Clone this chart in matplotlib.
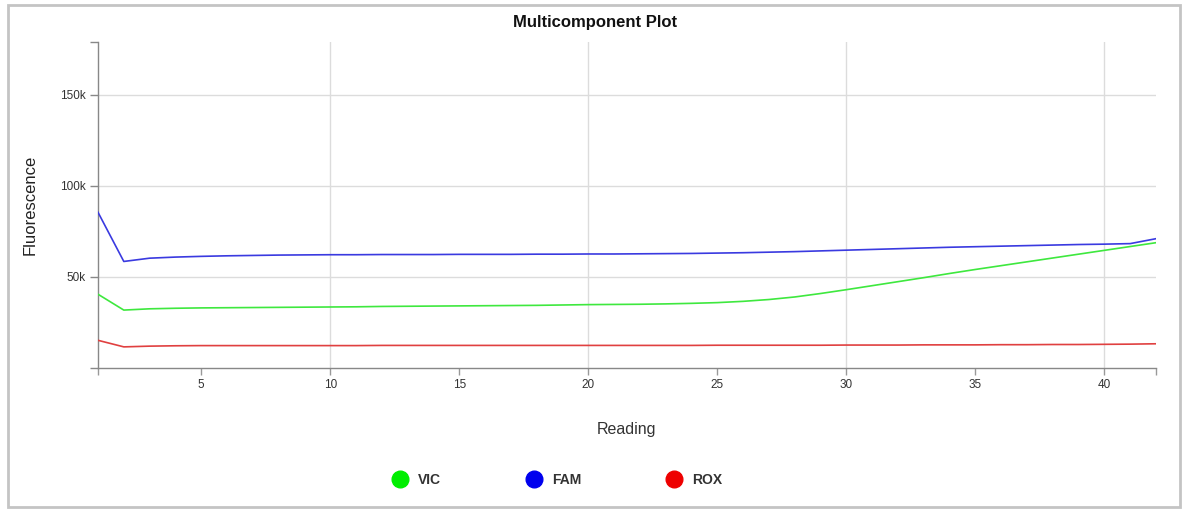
import matplotlib
matplotlib.use("Agg")
import matplotlib.pyplot as plt
from matplotlib.lines import Line2D
from matplotlib.patches import Rectangle

plt.rcParams['font.family'] = ['Liberation Sans', 'DejaVu Sans']

readings = list(range(1, 43))
fam = [85.5, 58.5, 60.3, 60.9, 61.3, 61.6, 61.8, 62.0, 62.1, 62.2,
       62.2, 62.3, 62.3, 62.3, 62.4, 62.4, 62.4, 62.5, 62.5, 62.6,
       62.6, 62.7, 62.8, 62.9, 63.1, 63.3, 63.6, 63.9, 64.3, 64.7,
       65.1, 65.5, 65.9, 66.3, 66.6, 66.9, 67.2, 67.5, 67.8, 68.0,
       68.3, 71.0]
vic = [40.5, 31.8, 32.5, 32.8, 33.0, 33.1, 33.2, 33.3, 33.4, 33.5,
       33.6, 33.8, 33.9, 34.0, 34.1, 34.2, 34.3, 34.4, 34.6, 34.8,
       34.9, 35.0, 35.2, 35.5, 35.9, 36.6, 37.6, 39.0, 40.9, 43.0,
       45.2, 47.4, 49.6, 51.9, 54.1, 56.2, 58.3, 60.4, 62.5, 64.6,
       66.7, 68.8]
rox = [15.2, 11.6, 12.0, 12.2, 12.3, 12.3, 12.3, 12.3, 12.3, 12.3,
       12.3, 12.4, 12.4, 12.4, 12.4, 12.4, 12.4, 12.4, 12.4, 12.4,
       12.4, 12.4, 12.4, 12.4, 12.5, 12.5, 12.5, 12.5, 12.5, 12.6,
       12.6, 12.6, 12.7, 12.7, 12.7, 12.8, 12.8, 12.9, 12.9, 13.0,
       13.1, 13.3]
series_names = ["VIC", "FAM", "ROX"]
line_colors = ["#3ee83e", "#3a3ae0", "#e04040"]
legend_colors = ["#00ee00", "#0000ee", "#ee0000"]
x_ticks = [5, 10, 15, 20, 25, 30, 35, 40]
x_grid = [10, 20, 30, 40]
y_ticks = [50000, 100000, 150000]
y_tick_labels = ["50k", "100k", "150k"]

fig = plt.figure(figsize=(11.89, 5.12), dpi=100)
fig.patch.set_facecolor("white")

# card border
card = Rectangle((8 / 1189, 5 / 512), 1172 / 1189, 502 / 512,
                 transform=fig.transFigure, facecolor="none",
                 edgecolor="#c4c4c4", linewidth=2.0, zorder=-5)
fig.add_artist(card)

ax = fig.add_axes([98 / 1189, 1 - 368 / 512, (1156 - 98) / 1189, (368 - 42) / 512])
ax.set_facecolor("none")
ax.set_zorder(2)

for gx in x_grid:
    ax.axvline(gx, color="#dcdcdc", lw=1.0, zorder=1)
for gy in y_ticks:
    ax.axhline(gy, color="#dcdcdc", lw=1.0, zorder=1)

for vals, c in zip([vic, fam, rox], line_colors):
    ax.plot(readings, [v * 1000 for v in vals], color=c, lw=1.2, zorder=3)

ax.set_xlim(1, 42)
ax.set_ylim(0, 179000)

ax.set_xticks([1] + x_ticks + [42])
ax.set_xticklabels([""] + [str(t) for t in x_ticks] + [""])
ax.set_yticks([0] + y_ticks + [179000])
ax.set_yticklabels([""] + y_tick_labels + [""])
ax.tick_params(axis="x", colors="#999999", labelcolor="#333333",
               labelsize=8.5, length=5, width=1, direction="out", pad=3)
ax.tick_params(axis="y", colors="#888888", labelcolor="#333333",
               labelsize=8.5, length=6, width=1, direction="out", pad=3)

for side in ["top", "right"]:
    ax.spines[side].set_visible(False)
for side in ["left", "bottom"]:
    ax.spines[side].set_color("#888888")
    ax.spines[side].set_linewidth(1)

ax.set_xlabel("Reading", fontsize=11.5, color="#333333", labelpad=22)
ax.set_ylabel("Fluorescence", fontsize=12, color="#222222", labelpad=16)

fig.text(595 / 1189, 1 - 22 / 512, "Multicomponent Plot", ha="center",
         va="center", fontsize=12, fontweight="bold", color="#111111")

handles = [Line2D([], [], linestyle="none", marker="o", markersize=12,
                  markerfacecolor=c, markeredgecolor=c) for c in legend_colors]
fig.legend(handles, series_names, loc="center", bbox_to_anchor=(554 / 1189, 1 - 480 / 512),
           ncol=3, frameon=False, columnspacing=5.7,
           prop={"size": 10, "weight": "bold"},
           handletextpad=0.3, labelcolor="#333333")

fig.savefig("out.png", dpi=100, facecolor="white")
